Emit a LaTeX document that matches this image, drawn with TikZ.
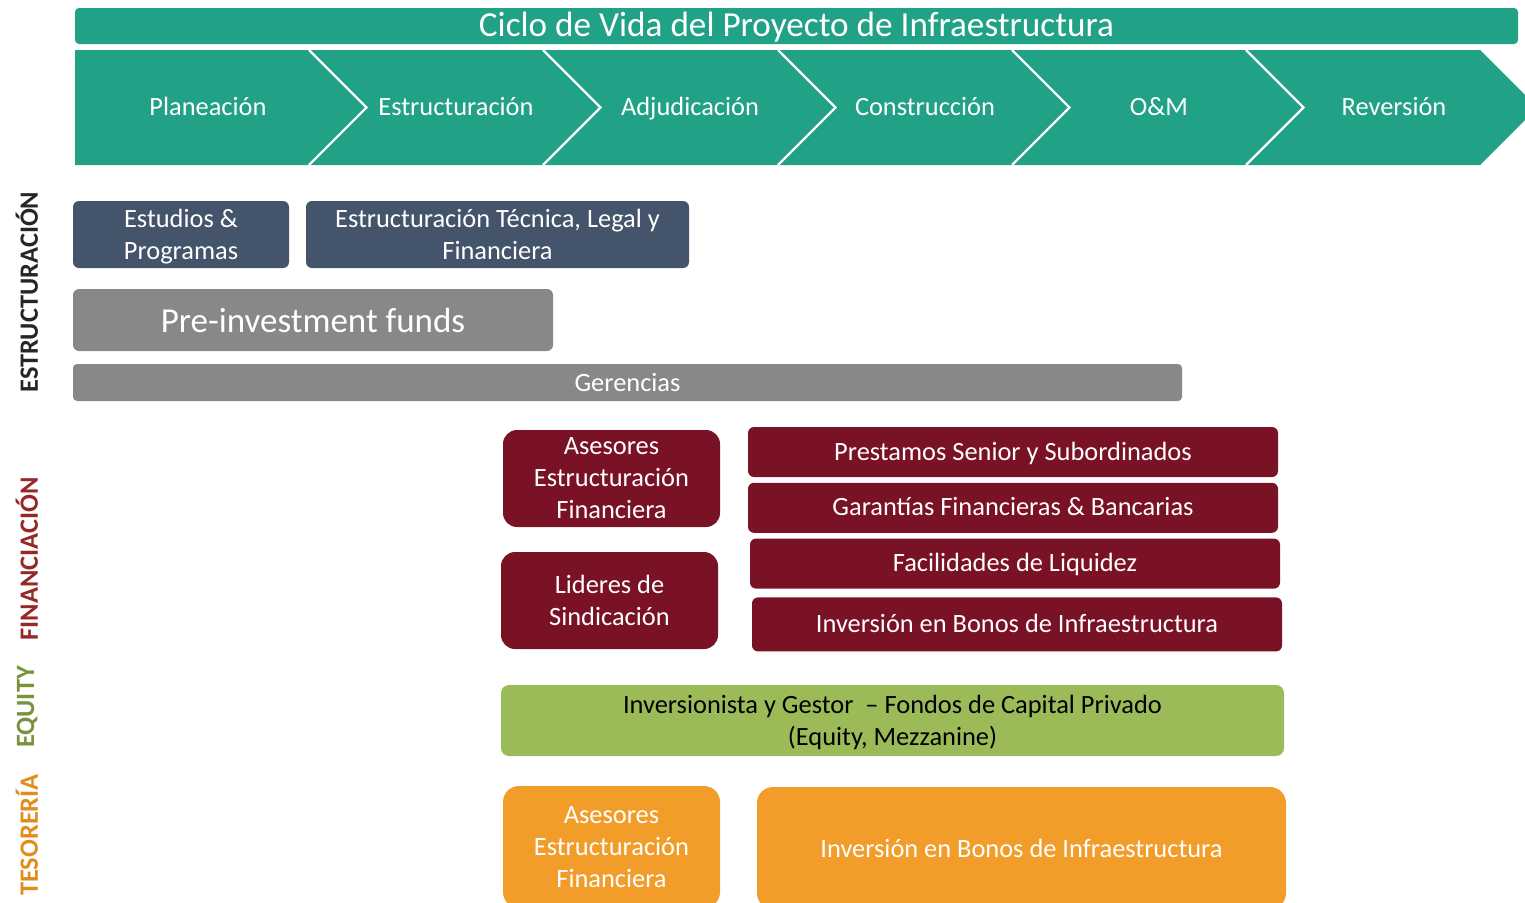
\documentclass[tikz,border=0pt]{standalone}
\usepackage{fontspec}
\setmainfont{Carlito}
\usepackage{xcolor}
\usepackage{tikz}
\usetikzlibrary{positioning}

\definecolor{verdeciclo}{RGB}{33,161,133}
\definecolor{pizarra}{RGB}{68,84,106}
\definecolor{grisbarra}{RGB}{136,136,136}
\definecolor{vino}{RGB}{122,18,38}
\definecolor{oliva}{RGB}{155,187,89}
\definecolor{naranja}{RGB}{242,156,42}
\definecolor{negroet}{RGB}{38,38,38}
\definecolor{rojoet}{RGB}{150,40,40}
\definecolor{verdeet}{RGB}{119,147,60}
\definecolor{naranjaet}{RGB}{226,140,30}

\begin{document}
\begin{tikzpicture}[
        x=0.5pt, y=-0.5pt,
        font=\fontsize{13.2}{16}\selectfont,
        node distance=2.5pt,
        box/.style={align=center, inner sep=1pt, text=white},
        slatebox/.style={box, fill=pizarra, rounded corners=3pt, minimum height=33.5pt, text depth=0pt},
        graybox/.style={box, fill=grisbarra, rounded corners=3pt},
        winebox/.style={box, fill=vino, rounded corners=7pt, minimum width=108.5pt, minimum height=48.5pt},
        winebar/.style={box, fill=vino, rounded corners=3pt, minimum width=265pt, minimum height=25pt,
            text height=0.95em, text depth=0.15em},
        greenbox/.style={box, fill=oliva, rounded corners=4pt, text=black},
        orangebox/.style={box, fill=naranja, rounded corners=8pt, minimum height=61pt},
        phase/.style={text=white, anchor=base},
        sidelabel/.style={rotate=90, font=\fontsize{13.2}{16}\selectfont\bfseries}
    ]

    \useasboundingbox (0,0) rectangle (1525,902);
    \clip (0,0) rectangle (1525,902);

    % CICLO DE VIDA
    \node[box, fill=verdeciclo, rounded corners=2pt, minimum width=721.5pt, minimum height=18pt,
        text height=10pt, text depth=0pt, inner ysep=1pt,
        font=\fontsize{17.6}{20}\selectfont] (ciclo) at (796.5,26) {Ciclo de Vida del Proyecto de Infraestructura};

    % FASES
    \fill[verdeciclo] (75,50) -- (1480,50) -- (1537.5,107.5) -- (1480,165) -- (75,165) -- cycle;
    \draw[white, line width=1.2pt] (309,50) -- (366.5,107.5) -- (309,165);
    \draw[white, line width=1.2pt] (543,50) -- (600.5,107.5) -- (543,165);
    \draw[white, line width=1.2pt] (778,50) -- (835.5,107.5) -- (778,165);
    \draw[white, line width=1.2pt] (1012,50) -- (1069.5,107.5) -- (1012,165);
    \draw[white, line width=1.2pt] (1246,50) -- (1303.5,107.5) -- (1246,165);

    \node[phase] (plan) at (208,115) {Planeación};
    \node[phase] (estr) at (456,115) {Estructuración};
    \node[phase] (adju) at (690,115) {Adjudicación};
    \node[phase] (cons) at (925,115) {Construcción};
    \node[phase] (om) at (1159,115) {O\&M};
    \node[phase] (rev) at (1394,115) {Reversión};

    % ETIQUETAS LATERALES
    \node[sidelabel, text=negroet] (lestr) at (27,292) {ESTRUCTURACIÓN};
    \node[sidelabel, text=rojoet] (lfin) at (27,559) {FINANCIACIÓN};
    \node[sidelabel, text=verdeet] (lequ) at (27,707) {EQUITY};
    \node[sidelabel, text=naranjaet] (ltes) at (27,835) {TESORERÍA};

    % ESTRUCTURACION
    \node[slatebox, minimum width=108pt] (estudios) at (181,234.5) {Estudios \&\\ Programas};
    \node[slatebox, minimum width=191.5pt] (tecnica) at (497.5,234.5) {Estructuración Técnica, Legal y\\ Financiera};
    \node[graybox, minimum width=240pt, minimum height=31pt,
        font=\fontsize{17.5}{20}\selectfont] (preinv) at (313,320) {Pre-investment funds};
    \node[graybox, rounded corners=2pt, minimum width=554.5pt, minimum height=18.5pt] (gerencias) at (627.5,382.5) {Gerencias};

    % FINANCIACION
    \node[winebox] (asesores) at (611.5,478.5) {Asesores\\ Estructuración\\ Financiera};
    \node[winebox] (lideres) at (609.5,600.5) {Lideres de\\ Sindicación};
    \node[winebar] (prestamos) at (1013,452) {Prestamos Senior y Subordinados};
    \node[winebar, below=of prestamos] (garantias) {Garantías Financieras \& Bancarias};
    \node[winebar, below=of garantias, xshift=1pt] (liquidez) {Facilidades de Liquidez};
    \node[winebar, below=4pt of liquidez, xshift=1pt, minimum height=27pt] (bonosfin) {Inversión en Bonos de Infraestructura};

    % EQUITY
    \node[greenbox, minimum width=391.5pt, minimum height=35.5pt, text depth=0pt] (fondos) at (892.5,720.5)
        {Inversionista y Gestor\ \ -- Fondos de Capital Privado\\ (Equity, Mezzanine)};

    % TESORERIA
    \node[orangebox, minimum width=108.5pt] (asesorestes) at (611.5,847) {Asesores\\ Estructuración\\ Financiera};
    \node[orangebox, minimum width=264.5pt] (bonostes) at (1021.5,848) {Inversión en Bonos de Infraestructura};

\end{tikzpicture}
\end{document}
